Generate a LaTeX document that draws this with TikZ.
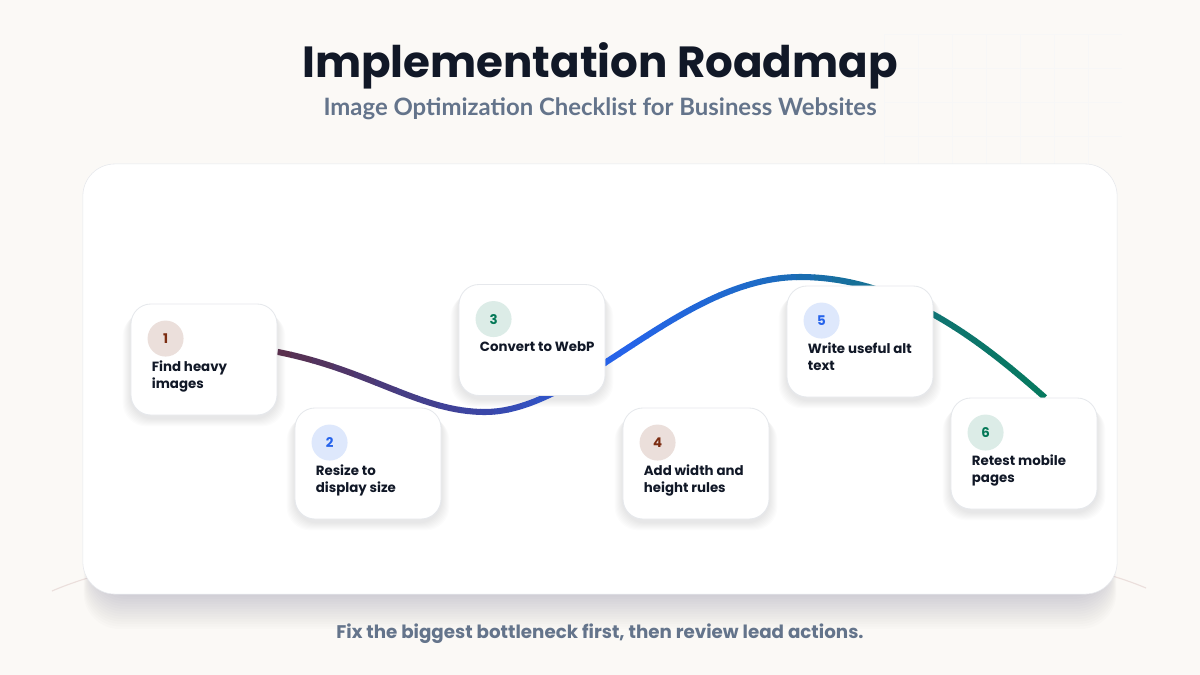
\documentclass[tikz,border=0pt]{standalone}
\usepackage{fontspec}
\setmainfont{Poppins}
\newfontfamily\subfont{Lato}
\usetikzlibrary{positioning}
\definecolor{inkdark}{HTML}{111827}
\definecolor{slate}{HTML}{64748B}
\definecolor{paper}{HTML}{FBF9F6}
\definecolor{cardline}{HTML}{E6E8EC}
\definecolor{shadowink}{HTML}{1E2440}
\definecolor{rust}{HTML}{7C2D12}
\definecolor{royal}{HTML}{2563EB}
\definecolor{pine}{HTML}{047857}
\definecolor{roadA}{HTML}{5B2E48}
\definecolor{roadB}{HTML}{3B46A6}
\definecolor{roadC}{HTML}{2563EB}
\definecolor{roadD}{HTML}{1E6BC6}
\definecolor{roadE}{HTML}{0F7470}
\definecolor{roadF}{HTML}{057A5C}
\pgfdeclarelayer{backdrop}
\pgfdeclarelayer{roadlayer}
\pgfsetlayers{backdrop,roadlayer,main}

\begin{document}
\begin{tikzpicture}[x=0.025cm, y=-0.025cm,
    panel/.style={rectangle, rounded corners=0.8cm, draw=cardline, fill=white, minimum width=25.85cm, minimum height=10.75cm},
    card/.style={rectangle, rounded corners=0.5cm, draw=cardline, line width=0.6pt, fill=white, minimum width=3.65cm, minimum height=2.775cm},
    softshade/.style={fill=shadowink, opacity=0.011},
    numdot/.style={circle, minimum size=0.9cm, inner sep=0pt, font=\bfseries\fontsize{9.5}{10}\selectfont},
    steplabel/.style={anchor=north west, inner sep=0pt, align=left, font=\bfseries\fontsize{9.5}{12}\selectfont, text=inkdark},
    road/.style={line width=4.3pt}
]
\useasboundingbox (0,0) rectangle (1200,675);

% Cards
\node[card] (c1) at (204,359.5) {};
\node[card] (c2) at (368,463.5) {};
\node[card] (c3) at (532,340) {};
\node[card] (c4) at (696,463.5) {};
\node[card] (c5) at (860,341.5) {};
\node[card] (c6) at (1024,453.5) {};

% Backdrop and panel
\begin{pgfonlayer}{backdrop}
\fill[paper] (0,0) rectangle (1200,675);
\draw[black!3, line width=0.5pt] (884,34) grid[step=0.85cm] (1122,170);
\draw[rust!15, line width=0.8pt] (52,591) .. controls (250,505) and (950,505) .. (1146,588);
\foreach \g in {1,...,14}
  \fill[softshade, opacity=0.01, rounded corners=0.9cm] (92-0.6*\g,320) rectangle (1108+0.6*\g,594+2.5*\g);
\node[panel] (board) at (600,379) {};
\end{pgfonlayer}

% Card shadows and road, behind the cards
\coordinate (s) at ([yshift=0.19cm]c1.east);
\coordinate (e) at ([xshift=0.525cm]c6.north);
\begin{pgfonlayer}{roadlayer}
\foreach \c in {c1,c2,c3,c4,c5,c6}
  \foreach \g in {1,...,8}
    \fill[softshade, rounded corners=0.6cm] ([shift={(-\g,\g+1)}]\c.north west) rectangle ([shift={(\g,\g+3)}]\c.south east);
\foreach \xa/\xb/\ca/\cb in {270/480/roadA/roadB, 480/620/roadB/roadC, 620/760/roadC/roadD, 760/940/roadD/roadE, 940/1060/roadE/roadF}{
  \foreach \k in {0,...,9}{
    \pgfmathsetmacro\lo{\xa+(\xb-\xa)*\k/10}
    \pgfmathsetmacro\hi{\xa+(\xb-\xa)*(\k+1)/10+0.6}
    \pgfmathtruncatemacro\mix{95-\k*10}
    \begin{scope}
      \clip (\lo,250) rectangle (\hi,430);
      \draw[road, draw=\ca!\mix!\cb] (s) .. controls (370,370) and (420,412) .. (485,412)
          .. controls (580,412) and (680,277) .. (800,277)
          .. controls (900,277) and (980,340) .. (e);
    \end{scope}
  }
}
\end{pgfonlayer}

% Numbers
\node[numdot, fill=rust!15, text=rust] (n1) at ([shift={(35,35)}]c1.north west) {1};
\node[numdot, fill=royal!15, text=royal] (n2) at ([shift={(35,35)}]c2.north west) {2};
\node[numdot, fill=pine!14, text=pine] (n3) at ([shift={(35,35)}]c3.north west) {3};
\node[numdot, fill=rust!15, text=rust] (n4) at ([shift={(35,35)}]c4.north west) {4};
\node[numdot, fill=royal!15, text=royal] (n5) at ([shift={(35,35)}]c5.north west) {5};
\node[numdot, fill=pine!14, text=pine] (n6) at ([shift={(35,35)}]c6.north west) {6};

% Labels
\node[steplabel] (t1) at ([shift={(21,57)}]c1.north west) {Find heavy\\images};
\node[steplabel] (t2) at ([shift={(21,57)}]c2.north west) {Resize to\\display size};
\node[steplabel] (t3) at ([shift={(21,57)}]c3.north west) {Convert to WebP};
\node[steplabel] (t4) at ([shift={(21,57)}]c4.north west) {Add width and\\height rules};
\node[steplabel] (t5) at ([shift={(21,57)}]c5.north west) {Write useful alt\\text};
\node[steplabel] (t6) at ([shift={(21,57)}]c6.north west) {Retest mobile\\pages};

% Titles
\node[anchor=base, inner sep=0pt, text=inkdark, font=\bfseries\fontsize{31}{36}\selectfont] (title) at (600,78) {Implementation Roadmap};
\node[anchor=base, inner sep=0pt, text=slate, font=\subfont\bfseries\fontsize{17}{20}\selectfont] (subtitle) at (600,116) {Image Optimization Checklist for Business Websites};
\node[anchor=base, inner sep=0pt, text=slate, font=\bfseries\fontsize{13}{15}\selectfont] (footer) at (600,638) {Fix the biggest bottleneck first, then review lead actions.};
\end{tikzpicture}
\end{document}
